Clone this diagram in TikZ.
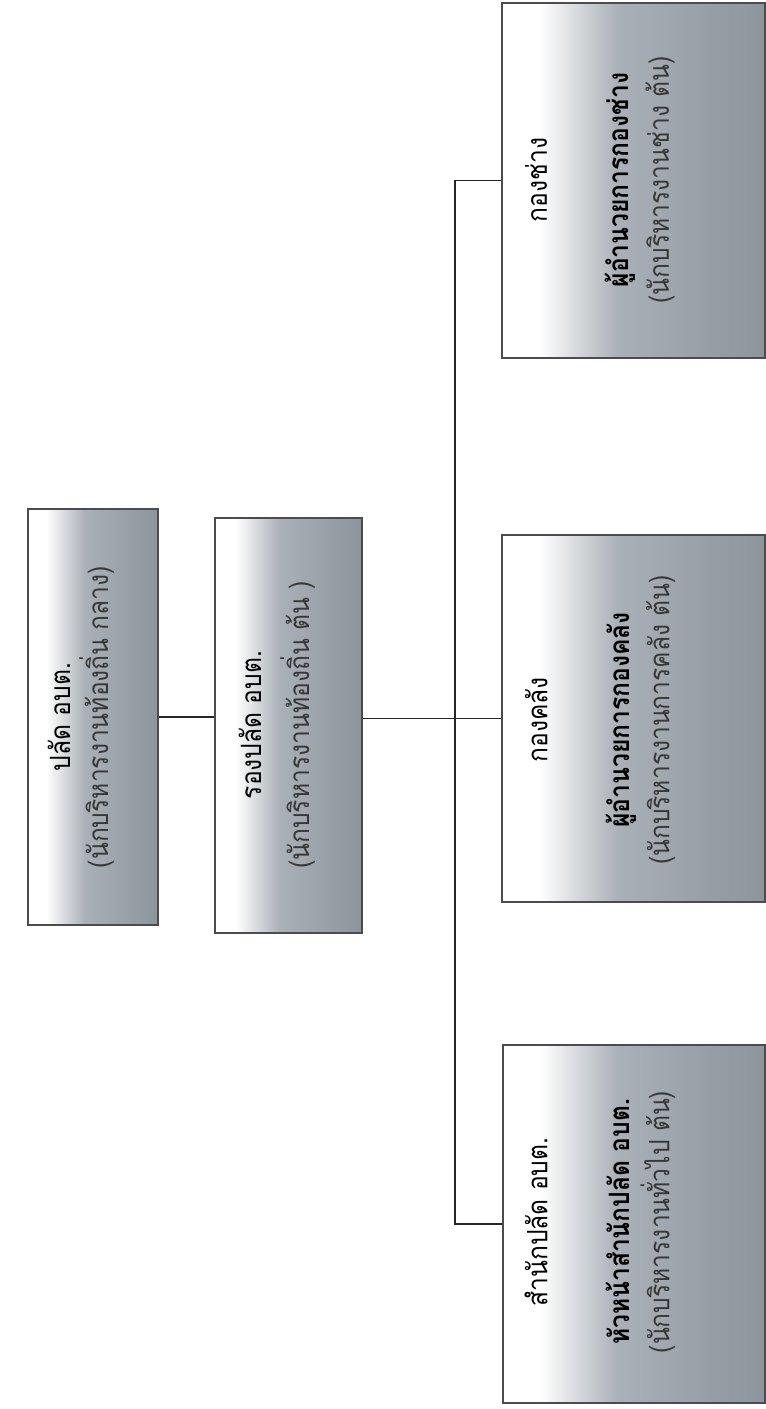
\documentclass[tikz,border=0pt]{standalone}
\usepackage{fontspec}
\newfontfamily\thai[Script=Thai,FakeStretch=0.88]{Loma}
\definecolor{gA}{RGB}{170,176,183}
\definecolor{gB}{RGB}{140,148,156}
\definecolor{subc}{RGB}{55,55,55}
\pgfdeclarehorizontalshading{boxsh}{100bp}{color(0bp)=(white); color(25bp)=(white); color(32bp)=(white); color(47bp)=(gA); color(75bp)=(gB); color(100bp)=(gB)}
\tikzset{
  box/.style={draw=black!70, line width=1.5pt, shade, shading=boxsh, inner sep=0pt},
  lbl/.style={rotate=90, align=center, font=\thai\fontsize{28}{40}\selectfont, inner sep=0pt},
  conn/.style={line width=1.8pt, black!85}
}
\begin{document}
\begin{tikzpicture}[x=1pt,y=-1pt]
\useasboundingbox[fill=white] (0,0) rectangle (766,1409);
% boxes
\node[box, minimum width=130pt, minimum height=416pt] (b1) at (93,717) {};
\node[box, minimum width=147pt, minimum height=415pt] (b2) at (288.5,725.5) {};
\node[box, minimum width=263pt, minimum height=355pt] (b5) at (633.5,180.5) {};
\node[box, minimum width=263pt, minimum height=367pt] (b4) at (633.5,718.5) {};
\node[box, minimum width=262pt, minimum height=358pt] (b3) at (634,1224) {};
% texts
\node[lbl] (t1) at (81,717) {ปลัด อบต.\\[-2pt] {\color{subc}(นักบริหารงานท้องถิ่น กลาง)}};
\node[lbl] (t2) at (277,725) {รองปลัด อบต.\\[8pt] {\color{subc}(นักบริหารงานท้องถิ่น ต้น )}};
\node[lbl] (t5) at (600,180) {กองช่าง\\[42pt] {\bfseries ผู้อำนวยการกองช่าง}\\ {\color{subc}(นักบริหารงานช่าง ต้น)}};
\node[lbl] (t4) at (600,720) {กองคลัง\\[42pt] {\bfseries ผู้อำนวยการกองคลัง}\\ {\color{subc}(นักบริหารงานการคลัง ต้น)}};
\node[lbl] (t3) at (600,1222) {สำนักปลัด อบต.\\[42pt] {\bfseries หัวหน้าสำนักปลัด อบต.}\\ {\color{subc}(นักบริหารงานทั่วไป ต้น)}};
% connectors
\coordinate (j) at (455,718);
\draw[conn] (b1.east) -- (b1.east -| b2.west);
\draw[conn] (b2.east |- b4.west) -- (b4.west);
\draw[conn] (b5.west) -- (b5.west -| j) -- (b3.west -| j) -- (b3.west);
\end{tikzpicture}
\end{document}
